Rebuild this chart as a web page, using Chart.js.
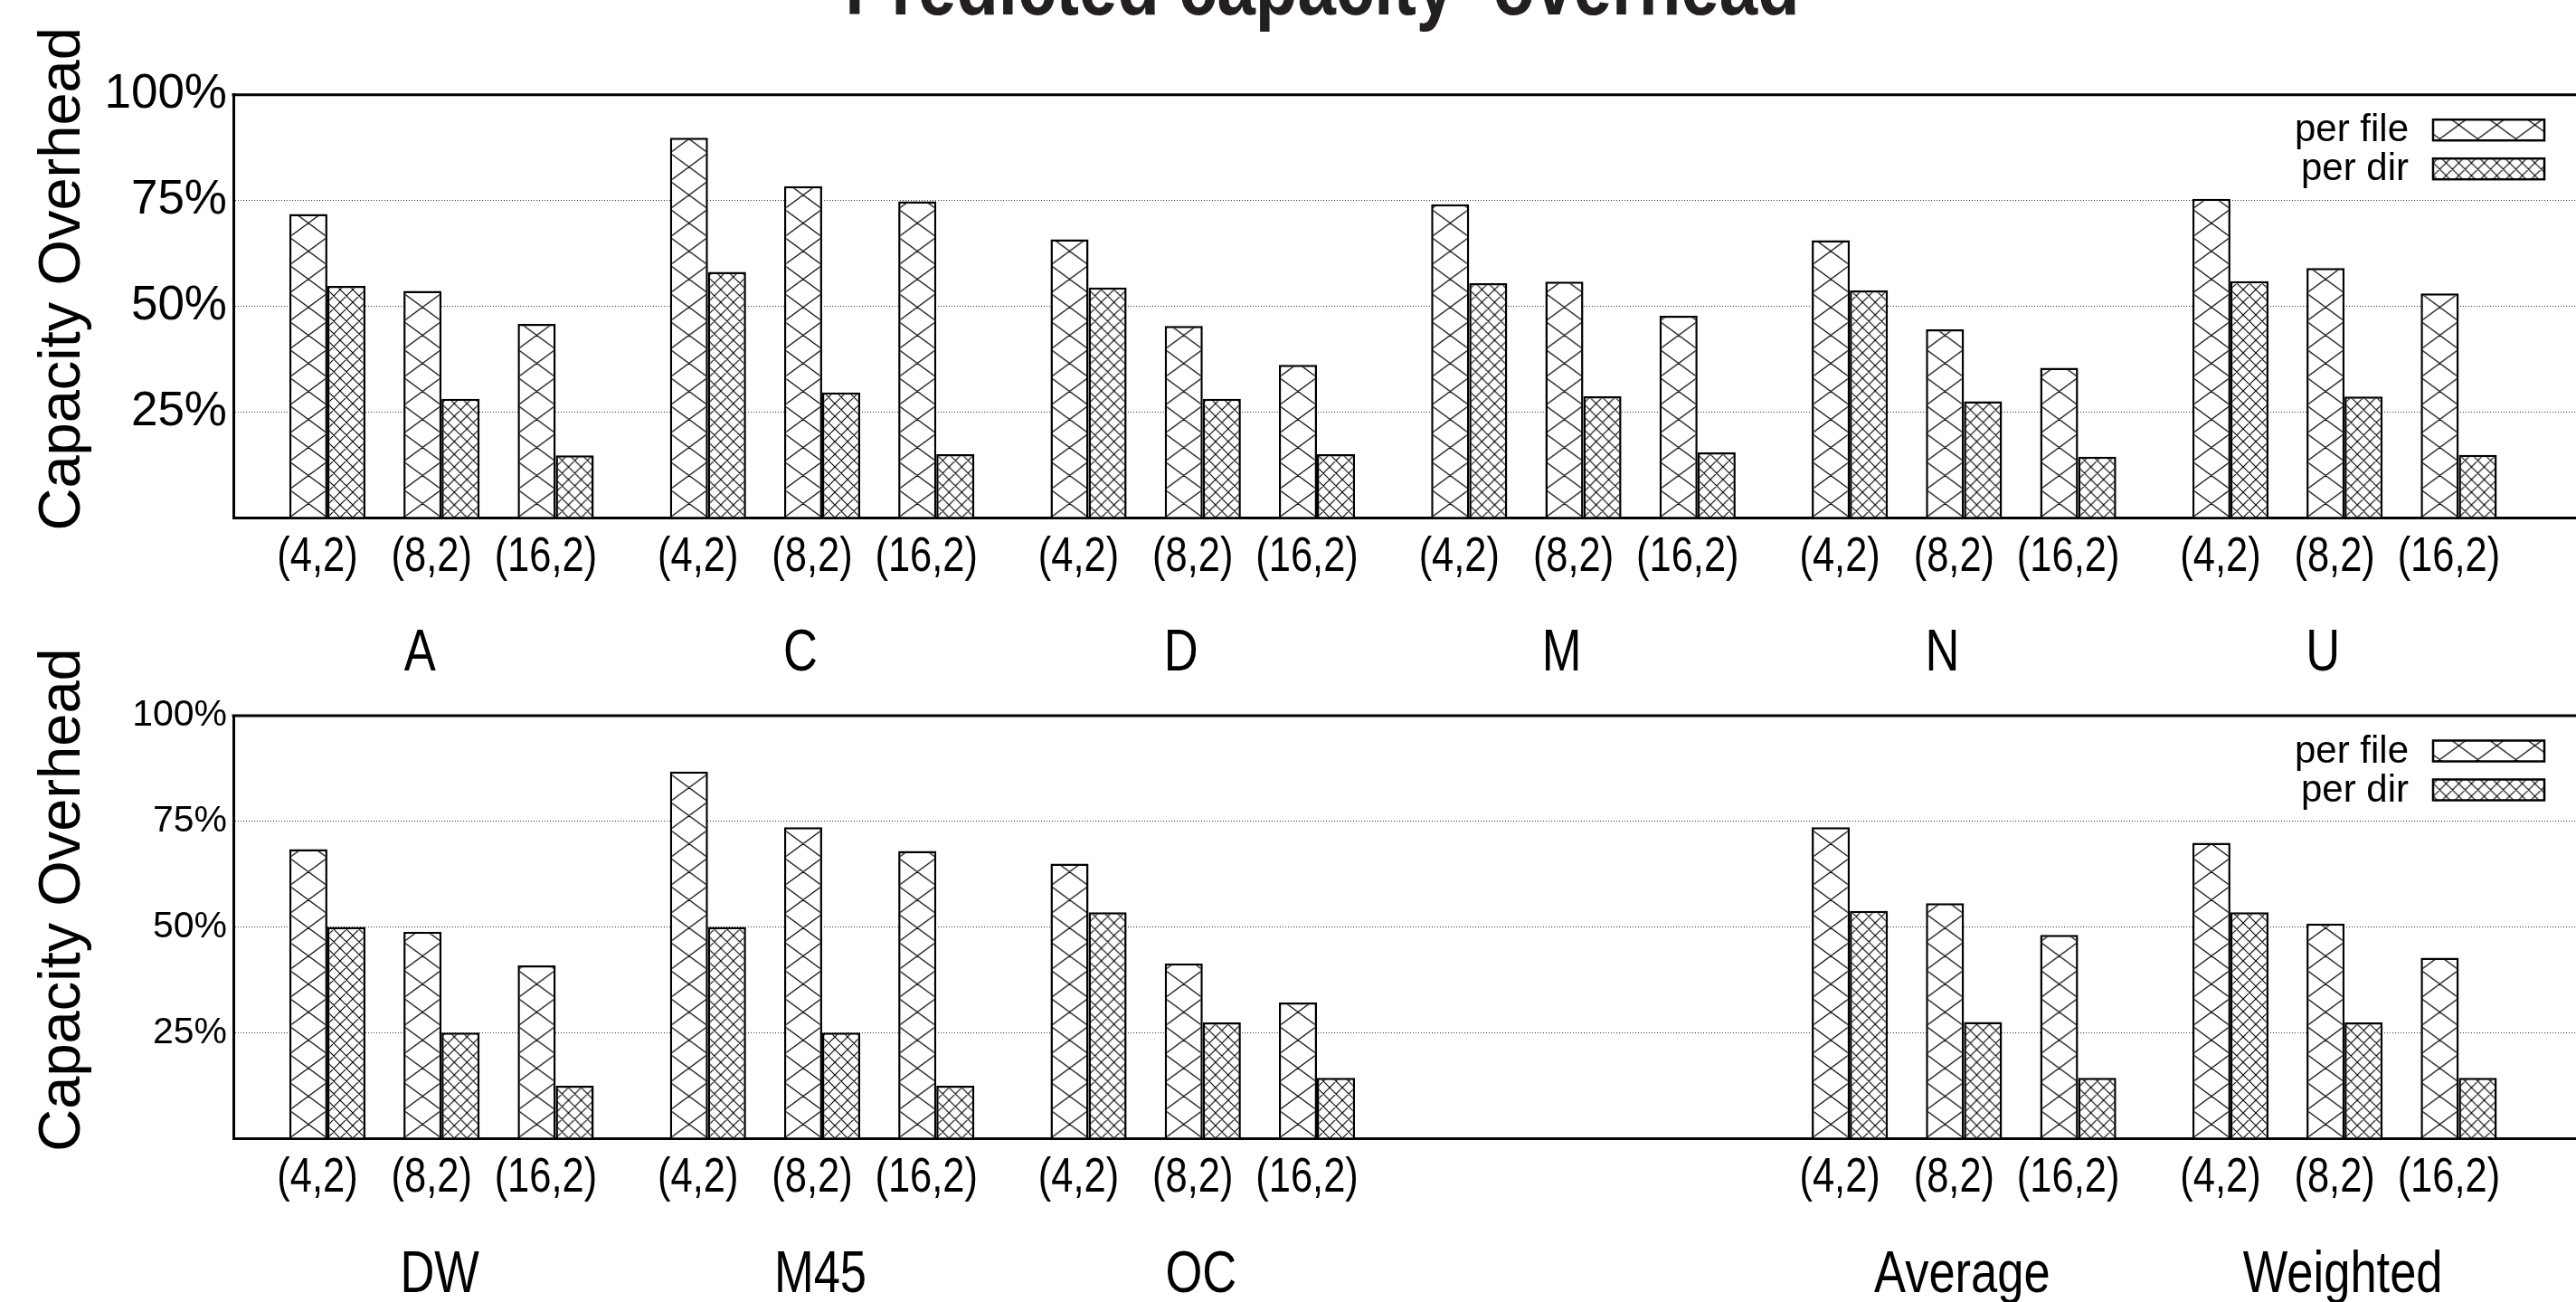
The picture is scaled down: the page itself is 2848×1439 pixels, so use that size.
<!DOCTYPE html>
<html>
<head>
<meta charset="utf-8">
<title>Predicted capacity overhead</title>
<script src="https://cdn.jsdelivr.net/npm/chart.js@4.4.1/dist/chart.umd.min.js"></script>
<style>
  html, body { margin: 0; padding: 0; background: #fff; overflow: hidden; }
  #wrap { position: relative; width: 2848px; height: 1439px; }
  .panel { position: absolute; left: 0; width: 2848px; }
  #topPanel { top: 0; height: 760px; z-index: 1; }
  #bottomPanel { top: 700px; height: 739px; z-index: 2; }
</style>
</head>
<body>
<div id="wrap">
  <div class="panel" id="topPanel"><canvas id="topChart"></canvas></div>
  <div class="panel" id="bottomPanel"><canvas id="bottomChart"></canvas></div>
</div>
<script>
// ---- data -------------------------------------------------------------
const configLabels = ['(4,2)', '(8,2)', '(16,2)'];
const seriesNames = ['per file', 'per dir'];
const yTickValues = [25, 50, 75, 100];
const titleText = 'Predicted capacity  overhead';
const yTitleText = 'Capacity Overhead';

const topGroups = ['A', 'C', 'D', 'M', 'N', 'U'];
const topPerFile = [71.8, 53.6, 45.8,  89.8, 78.4, 74.8,  65.8, 45.3, 36.1,  74.1, 55.8, 47.7,  65.6, 44.5, 35.4,  75.4, 59.0, 53.0];
const topPerDir  = [54.8, 28.1, 14.7,  58.1, 29.6, 15.0,  54.4, 28.1, 15.0,  55.4, 28.7, 15.4,  53.7, 27.5, 14.4,  55.9, 28.6, 14.8];

const bottomGroups = ['DW', 'M45', 'OC', '', 'Average', 'Weighted'];
const bottomPerFile = [68.4, 48.9, 40.9,  86.8, 73.6, 68.0,  65.0, 41.4, 32.1,  null, null, null,  73.6, 55.6, 48.1,  69.9, 50.8, 42.7];
const bottomPerDir  = [50.0, 25.0, 12.4,  50.0, 25.0, 12.4,  53.5, 27.4, 14.3,  null, null, null,  53.8, 27.5, 14.3,  53.5, 27.4, 14.3];

// ---- layout (x axis measured in bar widths) ---------------------------
const CLUSTERS_PER_GROUP = 3;
const CLUSTER_STRIDE = 3;     // two bars + one empty slot
const GROUP_STRIDE = 10;      // three clusters + extra gap
const X_MIN = -2.47;
const X_MAX = 59.08;
const FONT = '"Liberation Sans", Arial, Helvetica, sans-serif';
const NARROW = 0.82;          // horizontal squeeze for the narrow face

function clusterPos(i) {
  return Math.floor(i / CLUSTERS_PER_GROUP) * GROUP_STRIDE + (i % CLUSTERS_PER_GROUP) * CLUSTER_STRIDE;
}
function groupCenter(g) {
  return g * GROUP_STRIDE + CLUSTER_STRIDE;
}

// ---- hatch fills --------------------------------------------------------
const HATCH = {
  file: { w: 42, h: 31, lw: 1.2 },
  dir:  { w: 14, h: 14, lw: 1.1 }
};

function drawTile(w, h, lw) {
  const c = document.createElement('canvas');
  c.width = w; c.height = h;
  const g = c.getContext('2d');
  g.fillStyle = '#fff';
  g.fillRect(0, 0, w, h);
  g.strokeStyle = '#000';
  g.lineWidth = lw;
  g.beginPath();
  for (const dx of [-w, 0, w]) {
    for (const dy of [-h, 0, h]) {
      g.moveTo(dx, dy); g.lineTo(dx + w, dy + h);
      g.moveTo(dx, dy + h); g.lineTo(dx + w, dy);
    }
  }
  g.stroke();
  return c;
}

function hatchFor(chart, kind) {
  const x = chart.scales && chart.scales.x;
  if (!x || !chart.chartArea) return '#fff';
  const u = x.getPixelForValue(1) - x.getPixelForValue(0);
  const key = kind + ':' + u.toFixed(3);
  chart.$hatch = chart.$hatch || {};
  if (!chart.$hatch[key]) {
    const spec = HATCH[kind];
    const pattern = chart.ctx.createPattern(drawTile(spec.w, spec.h, spec.lw), 'repeat');
    const ox = x.getPixelForValue(0) - u;
    pattern.setTransform(new DOMMatrix().translate(ox, chart.chartArea.bottom).scale(u / 42, 1));
    chart.$hatch[key] = pattern;
  }
  return chart.$hatch[key];
}

// ---- text helpers --------------------------------------------------------
function narrowText(ctx, text, x, y, font, align) {
  ctx.save();
  ctx.translate(x, y);
  ctx.scale(NARROW, 1);
  ctx.font = font;
  ctx.fillStyle = '#000';
  ctx.textAlign = align || 'center';
  ctx.textBaseline = 'alphabetic';
  ctx.fillText(text, 0, 0);
  ctx.restore();
}

// frame top, category labels, group names, axis title, key and page title
const decorations = {
  id: 'decorations',
  afterDraw(chart, args, opts) {
    const ctx = chart.ctx;
    const ca = chart.chartArea;
    const x = chart.scales.x;

    ctx.save();
    ctx.strokeStyle = '#000';
    ctx.lineWidth = 3;
    ctx.beginPath();
    ctx.moveTo(ca.left - 1.5, ca.top);
    ctx.lineTo(ca.right, ca.top);
    ctx.stroke();
    ctx.restore();

    // cluster labels
    const vals = chart.data.datasets[0].$values;
    vals.forEach((v, i) => {
      if (v == null) return;
      const px = x.getPixelForValue(clusterPos(i)) + opts.tickShift;
      narrowText(ctx, configLabels[i % CLUSTERS_PER_GROUP], px, ca.bottom + opts.tickBaseline,
        opts.tickSize + 'px ' + FONT);
    });

    // group names
    opts.groups.forEach((name, g) => {
      if (!name) return;
      const px = x.getPixelForValue(groupCenter(g)) + opts.groupShift;
      narrowText(ctx, name, px, ca.bottom + opts.groupBaseline, opts.groupSize + 'px ' + FONT);
    });

    // y axis title
    ctx.save();
    ctx.translate(opts.yTitleX, (ca.top + ca.bottom) / 2 + opts.yTitleShift);
    ctx.rotate(-Math.PI / 2);
    ctx.font = opts.yTitleSize + 'px ' + FONT;
    ctx.fillStyle = '#000';
    ctx.textAlign = 'center';
    ctx.textBaseline = 'alphabetic';
    ctx.fillText(yTitleText, 0, 0);
    ctx.restore();

    // key
    const boxW = 123, boxH = 23, rowGap = 43;
    const boxRight = ca.right - 35;
    chart.data.datasets.forEach((ds, k) => {
      const top = ca.top + 27.5 + k * rowGap;
      const left = boxRight - boxW;
      ctx.save();
      ctx.fillStyle = hatchFor(chart, k === 0 ? 'file' : 'dir');
      ctx.fillRect(left, top, boxW, boxH);
      ctx.strokeStyle = '#000';
      ctx.lineWidth = 2.5;
      ctx.strokeRect(left, top, boxW, boxH);
      ctx.font = '42px ' + FONT;
      ctx.fillStyle = '#000';
      ctx.textAlign = 'right';
      ctx.textBaseline = 'middle';
      ctx.fillText(ds.label, left - 27, top + boxH / 2 + 1);
      ctx.restore();
    });

    // page title
    if (opts.title) {
      ctx.save();
      ctx.translate(1462, 16);
      ctx.scale(NARROW, 1);
      ctx.font = 'bold 93px ' + FONT;
      ctx.fillStyle = '#231f20';
      ctx.textAlign = 'center';
      ctx.textBaseline = 'alphabetic';
      ctx.fillText(titleText, 0, 0);
      ctx.restore();
    }
  }
};

function toPoints(values) {
  const out = [];
  values.forEach((v, i) => { if (v != null) out.push({ x: clusterPos(i), y: v }); });
  return out;
}

function makePanel(canvasId, groups, perFile, perDir, o) {
  const barCommon = {
    borderColor: '#000',
    borderWidth: 2.5,
    categoryPercentage: 2 / 3,
    barPercentage: 1
  };
  return new Chart(document.getElementById(canvasId), {
    type: 'bar',
    data: {
      datasets: [
        Object.assign({ label: seriesNames[0], data: toPoints(perFile), $values: perFile,
          backgroundColor: c => hatchFor(c.chart, 'file') }, barCommon),
        Object.assign({ label: seriesNames[1], data: toPoints(perDir), $values: perDir,
          backgroundColor: c => hatchFor(c.chart, 'dir') }, barCommon)
      ]
    },
    options: {
      responsive: true,
      maintainAspectRatio: false,
      animation: false,
      events: [],
      layout: { padding: { top: o.padTop, bottom: o.padBottom, left: 0, right: 0 } },
      plugins: {
        legend: { display: false },
        tooltip: { enabled: false },
        decorations: Object.assign({ groups }, o)
      },
      scales: {
        x: {
          type: 'linear',
          min: X_MIN,
          max: X_MAX,
          offset: false,
          grid: { display: false, drawTicks: false },
          border: { display: true, width: 3, color: '#000' },
          ticks: { display: false },
          afterBuildTicks: s => {
            s.ticks = perFile.map((v, i) => v == null ? null : { value: clusterPos(i) }).filter(Boolean);
          },
          afterFit: s => { s.height = 0; }
        },
        y: {
          min: 0,
          max: 100,
          afterBuildTicks: s => { s.ticks = [0].concat(yTickValues).map(v => ({ value: v })); },
          ticks: {
            callback: v => (v === 0 ? '' : v + '%'),
            font: { family: FONT, size: o.ySize },
            color: '#000',
            padding: 7
          },
          grid: {
            color: c => (c.tick && c.tick.value > 0 && c.tick.value < 100) ? '#333' : 'rgba(0,0,0,0)',
            lineWidth: 1,
            drawTicks: false
          },
          border: { display: true, width: 3, color: '#000', dash: [1, 2] },
          afterFit: s => { s.width = 258; }
        }
      }
    },
    plugins: [decorations]
  });
}

makePanel('topChart', topGroups, topPerFile, topPerDir, {
  padTop: 104.7, padBottom: 188, ySize: 53,
  tickShift: -11, tickBaseline: 59, tickSize: 53,
  groupShift: -24, groupBaseline: 169, groupSize: 64,
  yTitleX: 88, yTitleShift: -30, yTitleSize: 65,
  title: true
});
makePanel('bottomChart', bottomGroups, bottomPerFile, bottomPerDir, {
  padTop: 91, padBottom: 181, ySize: 41,
  tickShift: -11, tickBaseline: 59, tickSize: 53,
  groupShift: -2, groupBaseline: 170, groupSize: 64,
  yTitleX: 88, yTitleShift: -30, yTitleSize: 65,
  title: false
});
</script>
</body>
</html>
